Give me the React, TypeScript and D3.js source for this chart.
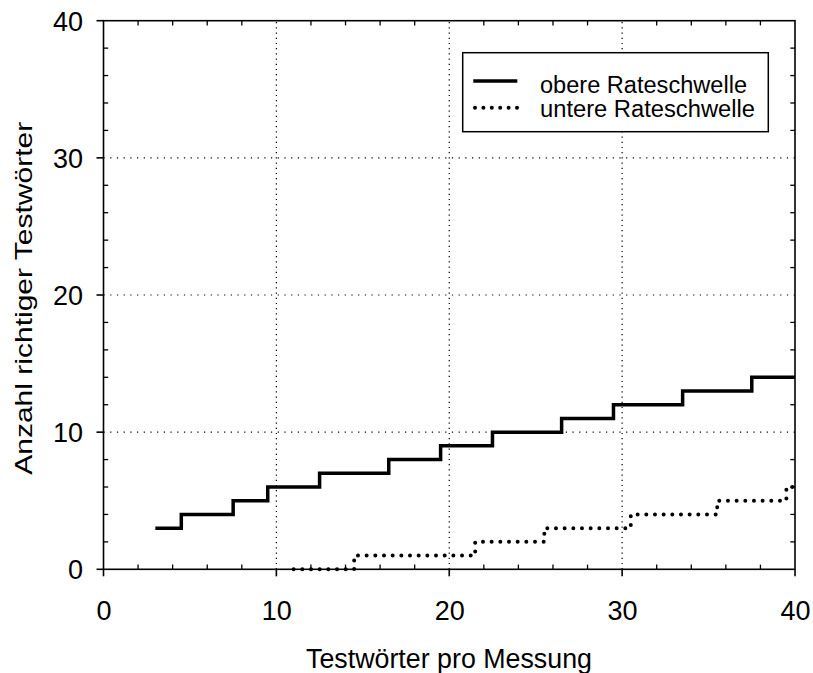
import React from "react";
import * as d3 from "d3";

const upperN = [3,4,5,6,7,8,9,10,11,12,13,14,15,16,17,18,19,20,21,22,23,24,25,26,27,28,29,30,31,32,33,34,35,36,37,38,39,40];
const upperV = [3,3,4,4,4,5,5,6,6,6,7,7,7,7,8,8,8,9,9,9,10,10,10,10,11,11,11,12,12,12,12,13,13,13,13,14,14,14];
const lowerN = [11,12,13,14,15,16,17,18,19,20,21,22,23,24,25,26,27,28,29,30,31,32,33,34,35,36,37,38,39,40];
const lowerV = [0,0,0,0,1,1,1,1,1,1,1,2,2,2,2,3,3,3,3,3,4,4,4,4,4,5,5,5,5,6];
const majorTicks = [0,10,20,30,40];
const minorTicks = [2,4,6,8,12,14,16,18,22,24,26,28,32,34,36,38];
const gridTicks = [10,20,30];
const legendLabels = ["obere Rateschwelle", "untere Rateschwelle"];
const xTitle = "Testwörter pro Messung";
const yTitle = "Anzahl richtiger Testwörter";

const FONT = "'Liberation Sans', Arial, sans-serif";

export default function App() {
  const x = d3.scaleLinear().domain([0, 40]).range([103.5, 795]);
  const y = d3.scaleLinear().domain([0, 40]).range([569.3, 20.7]);
  const line = d3
    .line<[number, number]>()
    .x((d) => x(d[0]))
    .y((d) => y(d[1]))
    .curve(d3.curveStep);
  const upper = line(upperN.map((n, i) => [n, upperV[i]] as [number, number])) || "";
  const lower = line(lowerN.map((n, i) => [n, lowerV[i]] as [number, number])) || "";
  const x0 = x(0), x1 = x(40), y0 = y(0), y1 = y(40);
  const minorLen = 4.7;
  const majorLen = 7;
  return (
    <svg width={813} height={673} style={{ position: "absolute", left: 0, top: 0, background: "#fff" }} fontFamily={FONT}>
      <rect x={0} y={0} width={813} height={673} fill="#fff" />
      {gridTicks.map((t) => (
        <line key={"gx" + t} x1={x(t)} x2={x(t)} y1={y0} y2={y1} stroke="#000" strokeWidth={1.2} strokeDasharray="1.2 4" />
      ))}
      {gridTicks.map((t) => (
        <line key={"gy" + t} x1={x0} x2={x1} y1={y(t)} y2={y(t)} stroke="#000" strokeWidth={1.2} strokeDasharray="1.2 5.5" />
      ))}
      <rect x={x0} y={y1} width={x1 - x0} height={y0 - y1} fill="none" stroke="#000" strokeWidth={1.6} />
      {minorTicks.map((t) => (
        <g key={"m" + t} stroke="#000" strokeWidth={1.3}>
          <line x1={x(t)} x2={x(t)} y1={y0} y2={y0 - minorLen} />
          <line x1={x(t)} x2={x(t)} y1={y1} y2={y1 + minorLen} />
          <line x1={x0} x2={x0 + minorLen} y1={y(t)} y2={y(t)} />
          <line x1={x1} x2={x1 - minorLen} y1={y(t)} y2={y(t)} />
        </g>
      ))}
      {majorTicks.map((t) => (
        <g key={"M" + t} stroke="#000" strokeWidth={1.6}>
          <line x1={x(t)} x2={x(t)} y1={y0} y2={y0 + majorLen} />
          <line x1={x0} x2={x0 - majorLen} y1={y(t)} y2={y(t)} />
        </g>
      ))}
      {majorTicks.map((t) => (
        <text key={"xl" + t} x={x(t) + 0.5} y={620} textAnchor="middle" fontSize={27} fill="#000">
          {t}
        </text>
      ))}
      {majorTicks.map((t) => (
        <text key={"yl" + t} x={83} y={y(t) + 9.8} textAnchor="end" fontSize={27} fill="#000">
          {t}
        </text>
      ))}
      <text x={449} y={668} textAnchor="middle" fontSize={27} textLength={286} lengthAdjust="spacingAndGlyphs" fill="#000">
        {xTitle}
      </text>
      <text
        transform="translate(32,298.3) rotate(-90)"
        textAnchor="middle"
        fontSize={24}
        textLength={353}
        lengthAdjust="spacingAndGlyphs"
        fill="#000"
      >
        {yTitle}
      </text>
      <path d={upper} fill="none" stroke="#000" strokeWidth={3.5} strokeLinejoin="miter" />
      <path d={lower} fill="none" stroke="#000" strokeWidth={4} strokeDasharray="0 8.67" strokeLinecap="round" />
      <rect x={462.7} y={52.7} width={305.6} height={79} fill="#fff" stroke="#000" strokeWidth={1.5} />
      <line x1={473.3} x2={517.3} y1={81} y2={81} stroke="#000" strokeWidth={3.5} />
      <line x1={475} x2={517} y1={107.7} y2={107.7} stroke="#000" strokeWidth={4} strokeDasharray="0 8.4" strokeLinecap="round" />
      <text x={540} y={92.5} fontSize={23} textLength={207} lengthAdjust="spacingAndGlyphs" fill="#000">
        {legendLabels[0]}
      </text>
      <text x={540} y={116.5} fontSize={23} textLength={215} lengthAdjust="spacingAndGlyphs" fill="#000">
        {legendLabels[1]}
      </text>
    </svg>
  );
}
